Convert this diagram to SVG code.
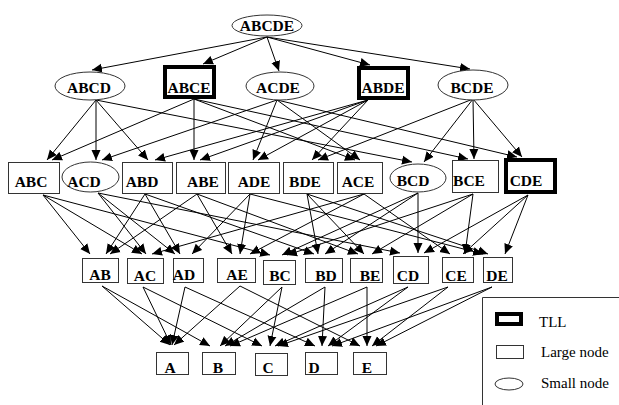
<svg xmlns="http://www.w3.org/2000/svg" width="619" height="405" viewBox="0 0 619 405">
  <defs>
    <marker id="arrow" viewBox="0 0 10 9" refX="10" refY="4.5" markerWidth="10" markerHeight="10" markerUnits="userSpaceOnUse" orient="auto">
      <path d="M0,0 L10,4.5 L0,9 z" fill="#000"/>
    </marker>
    <style>
      .box { fill: #fff; stroke: #333; stroke-width: 1; }
      .tll { fill: #fff; stroke: #000; stroke-width: 4; }
      .oval { fill: #fff; stroke: #333; stroke-width: 1; }
      .lbl { font-family: "Liberation Serif", "Times New Roman", serif; font-weight: bold; font-size: 15.5px; text-anchor: middle; fill: #000; }
      .leg { font-family: "Liberation Serif", "Times New Roman", serif; font-size: 15px; fill: #000; }
      #edges line { stroke: #000; stroke-width: 1; marker-end: url(#arrow); }
    </style>
  </defs>
  <rect width="619" height="405" fill="#fff"/>

  <!-- subset lattice edges, drawn under the nodes -->
  <g id="edges">
    <!-- 5-set to 4-sets -->
    <line x1="267" y1="37" x2="92" y2="70"/>
    <line x1="267" y1="37" x2="203" y2="64"/>
    <line x1="267" y1="37" x2="279" y2="71"/>
    <line x1="267" y1="37" x2="370" y2="65"/>
    <line x1="267" y1="37" x2="470" y2="69"/>
    <!-- 4-sets to 3-sets -->
    <line x1="96" y1="100" x2="47" y2="160"/>
    <line x1="96" y1="100" x2="96" y2="160"/>
    <line x1="96" y1="100" x2="148" y2="160"/>
    <line x1="96" y1="100" x2="412" y2="162"/>
    <line x1="194" y1="99" x2="52" y2="160"/>
    <line x1="194" y1="99" x2="194" y2="160"/>
    <line x1="194" y1="99" x2="355" y2="160"/>
    <line x1="194" y1="99" x2="468" y2="159"/>
    <line x1="277" y1="100" x2="102" y2="160"/>
    <line x1="277" y1="100" x2="253" y2="160"/>
    <line x1="277" y1="100" x2="360" y2="160"/>
    <line x1="277" y1="100" x2="517" y2="157"/>
    <line x1="368" y1="100" x2="155" y2="160"/>
    <line x1="368" y1="100" x2="200" y2="160"/>
    <line x1="368" y1="100" x2="258" y2="160"/>
    <line x1="368" y1="100" x2="312" y2="160"/>
    <line x1="473" y1="99" x2="318" y2="160"/>
    <line x1="473" y1="99" x2="424" y2="162"/>
    <line x1="473" y1="99" x2="474" y2="159"/>
    <line x1="473" y1="99" x2="522" y2="157"/>
    <!-- 3-sets to 2-sets -->
    <line x1="43" y1="195" x2="90" y2="254"/>
    <line x1="43" y1="195" x2="142" y2="254"/>
    <line x1="43" y1="195" x2="270" y2="255"/>
    <line x1="98" y1="193" x2="146" y2="254"/>
    <line x1="98" y1="193" x2="175" y2="254"/>
    <line x1="98" y1="193" x2="400" y2="253"/>
    <line x1="145" y1="194" x2="106" y2="254"/>
    <line x1="145" y1="194" x2="180" y2="254"/>
    <line x1="145" y1="194" x2="314" y2="254"/>
    <line x1="197" y1="194" x2="110" y2="254"/>
    <line x1="197" y1="194" x2="232" y2="254"/>
    <line x1="197" y1="194" x2="358" y2="254"/>
    <line x1="250" y1="194" x2="192" y2="254"/>
    <line x1="250" y1="194" x2="240" y2="254"/>
    <line x1="250" y1="194" x2="483" y2="254"/>
    <line x1="307" y1="194" x2="318" y2="254"/>
    <line x1="307" y1="194" x2="364" y2="254"/>
    <line x1="307" y1="194" x2="488" y2="254"/>
    <line x1="364" y1="194" x2="152" y2="254"/>
    <line x1="364" y1="194" x2="250" y2="254"/>
    <line x1="364" y1="194" x2="450" y2="254"/>
    <line x1="418" y1="193" x2="282" y2="255"/>
    <line x1="418" y1="193" x2="325" y2="254"/>
    <line x1="418" y1="193" x2="418" y2="253"/>
    <line x1="473" y1="194" x2="287" y2="255"/>
    <line x1="473" y1="194" x2="372" y2="254"/>
    <line x1="473" y1="194" x2="465" y2="254"/>
    <line x1="528" y1="195" x2="424" y2="253"/>
    <line x1="528" y1="195" x2="463" y2="254"/>
    <line x1="528" y1="195" x2="505" y2="254"/>
    <!-- 2-sets to 1-sets -->
    <line x1="102" y1="286" x2="170" y2="345"/>
    <line x1="102" y1="286" x2="210" y2="346"/>
    <line x1="143" y1="287" x2="171" y2="345"/>
    <line x1="143" y1="287" x2="262" y2="346"/>
    <line x1="185" y1="287" x2="172" y2="345"/>
    <line x1="185" y1="287" x2="315" y2="346"/>
    <line x1="240" y1="286" x2="174" y2="345"/>
    <line x1="240" y1="286" x2="360" y2="346"/>
    <line x1="282" y1="287" x2="220" y2="346"/>
    <line x1="282" y1="287" x2="270" y2="346"/>
    <line x1="325" y1="287" x2="225" y2="346"/>
    <line x1="325" y1="287" x2="322" y2="346"/>
    <line x1="367" y1="287" x2="230" y2="346"/>
    <line x1="367" y1="287" x2="367" y2="346"/>
    <line x1="408" y1="287" x2="275" y2="346"/>
    <line x1="408" y1="287" x2="328" y2="346"/>
    <line x1="448" y1="287" x2="278" y2="346"/>
    <line x1="448" y1="287" x2="372" y2="346"/>
    <line x1="492" y1="287" x2="332" y2="346"/>
    <line x1="492" y1="287" x2="376" y2="346"/>
  </g>

  <!-- level 1 -->
  <g id="ABCDE"><ellipse class="oval" cx="267" cy="25.5" rx="35" ry="10.5"/><text class="lbl" x="267" y="31">ABCDE</text></g>

  <!-- level 2 -->
  <g id="ABCD"><ellipse class="oval" cx="90" cy="86" rx="35" ry="14"/><text class="lbl" x="89" y="93">ABCD</text></g>
  <g id="ABCE"><rect class="tll" x="165" y="67" width="49" height="30"/><text class="lbl" x="189" y="93">ABCE</text></g>
  <g id="ACDE"><ellipse class="oval" cx="280" cy="86" rx="34" ry="14"/><text class="lbl" x="278" y="93">ACDE</text></g>
  <g id="ABDE"><rect class="tll" x="359" y="68" width="49" height="30"/><text class="lbl" x="383" y="93">ABDE</text></g>
  <g id="BCDE"><ellipse class="oval" cx="473" cy="85" rx="35" ry="15"/><text class="lbl" x="472" y="93">BCDE</text></g>

  <!-- level 3 -->
  <g id="ABC"><rect class="box" x="8.5" y="162.5" width="51" height="31"/><text class="lbl" x="31" y="187">ABC</text></g>
  <g id="ACD"><ellipse class="oval" cx="90.5" cy="177" rx="28.5" ry="15"/><text class="lbl" x="84" y="187">ACD</text></g>
  <g id="ABD"><rect class="box" x="122.5" y="162.5" width="50" height="31"/><text class="lbl" x="142" y="187">ABD</text></g>
  <g id="ABE"><rect class="box" x="176.5" y="162.5" width="49" height="31"/><text class="lbl" x="203" y="187">ABE</text></g>
  <g id="ADE"><rect class="box" x="228.5" y="162.5" width="51" height="31"/><text class="lbl" x="254" y="187">ADE</text></g>
  <g id="BDE"><rect class="box" x="283.5" y="162.5" width="50" height="31"/><text class="lbl" x="305" y="187">BDE</text></g>
  <g id="ACE"><rect class="box" x="337.5" y="162.5" width="45" height="31"/><text class="lbl" x="358" y="187">ACE</text></g>
  <g id="BCD"><ellipse class="oval" cx="418" cy="178" rx="28" ry="14"/><text class="lbl" x="413" y="186">BCD</text></g>
  <g id="BCE"><rect class="box" x="452.5" y="160.5" width="46" height="32"/><text class="lbl" x="469" y="186">BCE</text></g>
  <g id="CDE"><rect class="tll" x="506" y="160" width="49" height="32"/><text class="lbl" x="526" y="186">CDE</text></g>

  <!-- level 4 -->
  <g id="AB"><rect class="box" x="82.5" y="258.5" width="36" height="24"/><text class="lbl" x="100" y="280">AB</text></g>
  <g id="AC"><rect class="box" x="127.5" y="258.5" width="36" height="25"/><text class="lbl" x="145" y="281">AC</text></g>
  <g id="AD"><rect class="box" x="173.5" y="258.5" width="30" height="24"/><text class="lbl" x="184" y="280">AD</text></g>
  <g id="AE"><rect class="box" x="217.5" y="258.5" width="38" height="24"/><text class="lbl" x="237" y="280">AE</text></g>
  <g id="BC"><rect class="box" x="263.5" y="260.5" width="32" height="24"/><text class="lbl" x="280" y="281">BC</text></g>
  <g id="BD"><rect class="box" x="305.5" y="258.5" width="37" height="24"/><text class="lbl" x="326" y="281">BD</text></g>
  <g id="BE"><rect class="box" x="350.5" y="258.5" width="32" height="24"/><text class="lbl" x="370" y="281">BE</text></g>
  <g id="CD"><rect class="box" x="393.5" y="256.5" width="35" height="27"/><text class="lbl" x="408" y="281">CD</text></g>
  <g id="CE"><rect class="box" x="442.5" y="257.5" width="31" height="25"/><text class="lbl" x="456" y="281">CE</text></g>
  <g id="DE"><rect class="box" x="483.5" y="257.5" width="29" height="25"/><text class="lbl" x="497" y="281">DE</text></g>

  <!-- level 5 -->
  <g id="A"><rect class="box" x="156.5" y="352.5" width="32" height="22"/><text class="lbl" x="170" y="373">A</text></g>
  <g id="B"><rect class="box" x="202.5" y="352.5" width="33" height="22"/><text class="lbl" x="218" y="373">B</text></g>
  <g id="C"><rect class="box" x="255.5" y="353.5" width="32" height="22"/><text class="lbl" x="268" y="373">C</text></g>
  <g id="D"><rect class="box" x="305.5" y="352.5" width="32" height="22"/><text class="lbl" x="314" y="373">D</text></g>
  <g id="E"><rect class="box" x="353.5" y="352.5" width="33" height="22"/><text class="lbl" x="367" y="373">E</text></g>

  <!-- legend -->
  <g id="legend">
    <path d="M482.5,405 V297.5 H619" fill="none" stroke="#333" stroke-width="1"/>
    <rect class="tll" x="497" y="314" width="24" height="10"/>
    <text class="leg" x="539" y="327">TLL</text>
    <rect class="box" x="496.5" y="345.5" width="27" height="13"/>
    <text class="leg" x="541" y="357">Large node</text>
    <ellipse class="oval" cx="509" cy="384" rx="14" ry="6"/>
    <text class="leg" x="541" y="388">Small node</text>
  </g>
</svg>
